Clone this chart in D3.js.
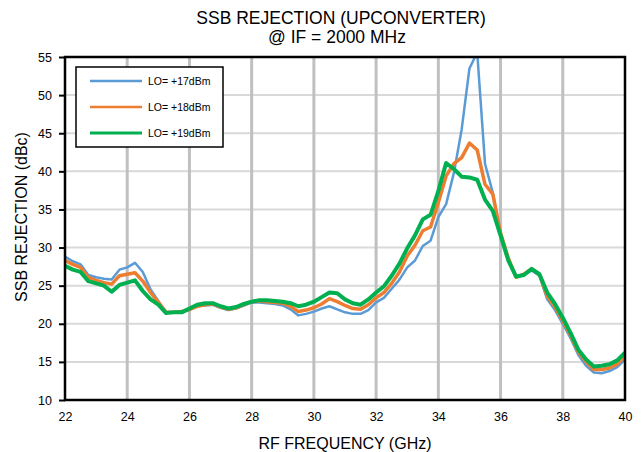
<!DOCTYPE html>
<html>
<head>
<meta charset="utf-8">
<script src="https://cdn.jsdelivr.net/npm/d3@7"></script>
<style>
  body { margin: 0; background: #fff; }
  text { font-family: "Liberation Sans", Arial, sans-serif; fill: #000; }
</style>
</head>
<body>
<div class="chart"></div>
<script>
var freq = d3.range(22, 40.001, 0.25);

var lo17 = [28.8, 28.2, 27.8, 26.4, 26.1, 25.9, 25.8, 27.1, 27.4, 28.0, 26.8, 24.5,
  23.0, 21.5, 21.5, 21.5, 21.8, 22.3, 22.4, 22.5, 22.1, 21.8, 22.0, 22.4,
  22.8, 22.8, 22.7, 22.6, 22.4, 21.9, 21.1, 21.3, 21.6, 22.0, 22.3, 21.9,
  21.5, 21.3, 21.3, 21.8, 22.8, 23.4, 24.6, 25.8, 27.4, 28.3, 30.2, 30.9,
  34.0, 35.7, 39.8, 45.5, 53.5, 55.6, 41.0, 37.2, 31.8, 28.5, 26.1, 26.4,
  27.0, 26.3, 23.2, 21.8, 20.0, 18.1, 15.9, 14.5, 13.6, 13.5, 13.8, 14.3, 15.3];

var lo18 = [28.3, 27.8, 27.4, 26.1, 25.7, 25.4, 25.2, 26.3, 26.5, 26.7, 25.6, 24.1,
  22.8, 21.5, 21.5, 21.6, 21.9, 22.3, 22.5, 22.6, 22.2, 21.9, 22.1, 22.5,
  22.9, 23.0, 22.9, 22.8, 22.7, 22.3, 21.6, 21.8, 22.1, 22.6, 23.3, 22.9,
  22.4, 22.0, 21.9, 22.5, 23.4, 24.1, 25.3, 26.8, 28.9, 30.3, 32.2, 32.7,
  35.9, 39.4, 41.0, 41.8, 43.7, 42.8, 38.3, 37.0, 31.9, 28.6, 26.1, 26.5,
  27.2, 26.5, 23.6, 22.2, 20.4, 18.5, 16.3, 15.0, 14.0, 14.0, 14.2, 14.7, 15.8];

var lo19 = [27.6, 27.1, 26.8, 25.6, 25.3, 25.0, 24.2, 25.1, 25.4, 25.7, 24.3, 23.2,
  22.5, 21.4, 21.5, 21.5, 22.0, 22.5, 22.7, 22.7, 22.3, 22.0, 22.2, 22.6,
  22.9, 23.1, 23.1, 23.0, 22.9, 22.7, 22.3, 22.5, 22.9, 23.5, 24.1, 24.0,
  23.2, 22.7, 22.5, 23.2, 24.1, 24.9, 26.3, 27.9, 29.9, 31.6, 33.7, 34.3,
  37.4, 41.1, 40.3, 39.3, 39.2, 38.9, 36.3, 34.8, 31.6, 28.3, 26.2, 26.4,
  27.2, 26.5, 24.1, 22.6, 20.8, 18.8, 16.6, 15.3, 14.4, 14.5, 14.7, 15.2, 16.2];

var seriesNames = ["LO= +17dBm", "LO= +18dBm", "LO= +19dBm"];
var seriesColors = ["#5b9bd5", "#ed7d31", "#00b050"];
var seriesWidths = [2.5, 3.5, 4];
var xTicks = [22, 24, 26, 28, 30, 32, 34, 36, 38, 40];
var yTicks = [10, 15, 20, 25, 30, 35, 40, 45, 50, 55];

var margin = {top: 57, right: 17, bottom: 52, left: 65},
    width = 642 - margin.left - margin.right,
    height = 452 - margin.top - margin.bottom;

var series = [lo17, lo18, lo19].map(function (vals, i) {
  return {
    name: seriesNames[i], color: seriesColors[i], w: seriesWidths[i],
    values: vals.map(function (v, j) { return {f: freq[j], v: v}; })
  };
});

var x = d3.scaleLinear().domain([22, 40]).range([0, width]);
var y = d3.scaleLinear().domain([10, 55]).range([height, 0]);

var svg = d3.select(".chart").append("svg")
    .attr("width", 642)
    .attr("height", 452);

var g = svg.append("g")
    .attr("transform", "translate(" + margin.left + "," + margin.top + ")");

svg.append("defs").append("clipPath").attr("id", "clip")
  .append("rect").attr("width", width).attr("height", height);

// grid
g.selectAll(".hgrid").data(yTicks.slice(1, -1)).enter().append("line")
    .attr("x1", 0).attr("x2", width)
    .attr("y1", function (d) { return y(d); }).attr("y2", function (d) { return y(d); })
    .attr("stroke", "#d9d9d9").attr("stroke-width", 2);

g.selectAll(".vgrid").data(xTicks.slice(1, -1)).enter().append("line")
    .attr("y1", 0).attr("y2", height)
    .attr("x1", function (d) { return x(d); }).attr("x2", function (d) { return x(d); })
    .attr("stroke", "#c0c0c0").attr("stroke-width", 3);

// axes
var xAxis = g.append("g")
    .attr("transform", "translate(0," + height + ")")
    .call(d3.axisBottom(x).tickValues(xTicks).tickSize(0).tickPadding(12));
xAxis.select(".domain").remove();
xAxis.selectAll("text").style("font-size", "12.5px");

var yAxis = g.append("g")
    .call(d3.axisLeft(y).tickValues(yTicks).tickSize(6).tickPadding(7));
yAxis.select(".domain").remove();
yAxis.selectAll("line").attr("stroke", "#000").attr("stroke-width", 2);
yAxis.selectAll("text").style("font-size", "12.5px");

// lines
var line = d3.line()
  .x(function (d) { return x(d.f); })
  .y(function (d) { return y(d.v); });

g.append("g").attr("clip-path", "url(#clip)")
  .selectAll("path").data(series).enter().append("path")
    .attr("d", function (d) { return line(d.values); })
    .attr("fill", "none")
    .attr("stroke", function (d) { return d.color; })
    .attr("stroke-width", function (d) { return d.w; })
    .attr("stroke-linejoin", "round");

// plot frame
g.append("rect")
    .attr("width", width).attr("height", height)
    .attr("fill", "none").attr("stroke", "#000").attr("stroke-width", 2.5);

// legend
var legend = g.append("g").attr("transform", "translate(11,10)");
legend.append("rect")
    .attr("width", 147).attr("height", 80)
    .attr("fill", "#fff").attr("stroke", "#000").attr("stroke-width", 1.5);

var item = legend.selectAll(".item").data(series).enter().append("g")
    .attr("transform", function (d, i) { return "translate(0," + (14 + i * 26) + ")"; });
item.append("line")
    .attr("x1", 14).attr("x2", 66)
    .attr("stroke", function (d) { return d.color; })
    .attr("stroke-width", function (d, i) { return [2.3, 2.7, 3][i]; });
item.append("text")
    .attr("x", 72).attr("dy", "0.35em")
    .style("font-size", "10.5px")
    .text(function (d) { return d.name; });

// titles
svg.append("text")
    .attr("x", 341).attr("y", 24)
    .attr("text-anchor", "middle").style("font-size", "17.5px")
    .text("SSB REJECTION (UPCONVERTER)");
svg.append("text")
    .attr("x", 337).attr("y", 43)
    .attr("text-anchor", "middle").style("font-size", "17.5px")
    .text("@ IF = 2000 MHz");

svg.append("text")
    .attr("x", margin.left + width / 2).attr("y", 449)
    .attr("text-anchor", "middle").style("font-size", "16px")
    .text("RF FREQUENCY (GHz)");

svg.append("text")
    .attr("transform", "translate(27,217) rotate(-90)")
    .attr("text-anchor", "middle").style("font-size", "16px")
    .text("SSB REJECTION (dBc)");
</script>
</body>
</html>
